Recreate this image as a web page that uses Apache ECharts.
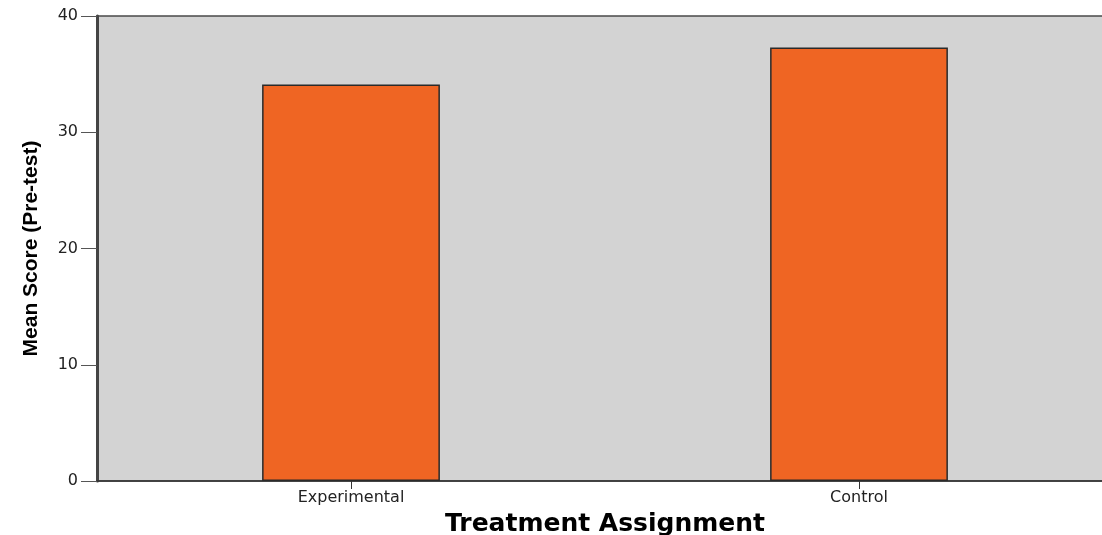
<!DOCTYPE html>
<html>
<head>
<meta charset="utf-8">
<script src="https://cdn.jsdelivr.net/npm/echarts@6/dist/echarts.min.js"></script>
<style>
html,body{margin:0;padding:0;background:#fff;}
#chart{width:1102px;height:535px;}
</style>
</head>
<body>
<div id="chart"></div>
<script>
var categories = ['Experimental', 'Control'];
var meanScores = [34.1, 37.3];
var yTicks = [0, 10, 20, 30, 40];

var chart = echarts.init(document.getElementById('chart'), null, {renderer: 'canvas'});
chart.setOption({
  animation: false,
  backgroundColor: '#ffffff',
  grid: {
    left: 97, top: 16, width: 1016, bottom: 54,
    outerBoundsMode: 'none',
    containLabel: false,
    show: true,
    backgroundColor: '#d3d3d3',
    borderColor: '#4a4a4a',
    borderWidth: 1.5
  },
  xAxis: {
    type: 'category',
    data: categories,
    name: 'Treatment Assignment',
    nameLocation: 'middle',
    nameGap: 31,
    nameTextStyle: {
      fontFamily: 'DejaVu Sans',
      fontWeight: 'bold',
      fontSize: 25,
      color: '#000'
    },
    axisLine: {show: true, lineStyle: {color: '#333', width: 1.5}},
    axisTick: {show: true, alignWithLabel: true, length: 8, lineStyle: {color: '#333', width: 1}},
    axisLabel: {
      fontFamily: 'DejaVu Sans',
      fontSize: 16,
      color: '#222',
      margin: 9
    },
    splitLine: {show: false}
  },
  yAxis: {
    type: 'value',
    min: yTicks[0],
    max: yTicks[yTicks.length - 1],
    interval: yTicks[1] - yTicks[0],
    name: 'Mean Score (Pre-test)',
    nameLocation: 'middle',
    nameGap: 55,
    nameTextStyle: {
      fontFamily: 'Liberation Sans',
      fontWeight: 'bold',
      fontSize: 21,
      color: '#000'
    },
    axisLine: {show: true, lineStyle: {color: '#444', width: 3}},
    axisTick: {show: true, length: 16, lineStyle: {color: '#555', width: 1}},
    axisLabel: {
      fontFamily: 'DejaVu Sans',
      fontSize: 16,
      color: '#222',
      margin: 19
    },
    splitLine: {show: false}
  },
  series: [{
    type: 'bar',
    data: meanScores,
    barWidth: '35%',
    itemStyle: {
      color: '#ef6523',
      borderColor: '#2a2a2a',
      borderWidth: 1.5
    }
  }]
});
</script>
</body>
</html>
